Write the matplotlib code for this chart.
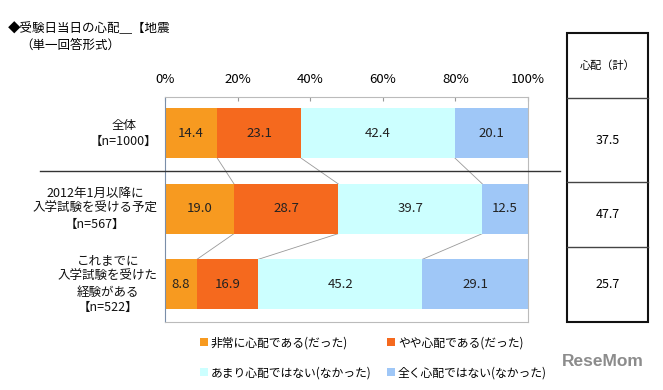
import matplotlib
matplotlib.use("Agg")
import matplotlib.pyplot as plt
from matplotlib.patches import Rectangle
from matplotlib.lines import Line2D
import numpy as np

plt.rcParams['font.family'] = ['Noto Sans CJK JP', 'DejaVu Sans']

# data
groups = ["全体\n【n=1000】",
          "2012年1月以降に\n入学試験を受ける予定\n【n=567】",
          "これまでに\n入学試験を受けた\n経験がある\n【n=522】"]
series_names = ["非常に心配である(だった)", "やや心配である(だった)",
                "あまり心配ではない(なかった)", "全く心配ではない(なかった)"]
very = [14.4, 19.0, 8.8]
somewhat = [23.1, 28.7, 16.9]
not_much = [42.4, 39.7, 45.2]
not_at_all = [20.1, 12.5, 29.1]
worry_total = [37.5, 47.7, 25.7]
tick_labels = ["0%", "20%", "40%", "60%", "80%", "100%"]

colors = ["#F79A20", "#F5691E", "#CCFFFF", "#9FC7F7"]

fig = plt.figure(figsize=(6.63, 3.90), dpi=100)
W, H = 663, 390

def fx(px):
    return px / W

def fy(py):
    return 1 - py / H

ax = fig.add_axes([fx(165), fy(322), fx(528) - fx(165), fy(97) - fy(322)])

series = [very, somewhat, not_much, not_at_all]
ypos = np.arange(len(groups))
bh = 0.66
left = np.zeros(len(groups))
for vals, c in zip(series, colors):
    vals = np.array(vals)
    ax.barh(ypos, vals, left=left, height=bh, color=c, edgecolor='none', zorder=2)
    for y, l, v in zip(ypos, left, vals):
        ax.text(l + v / 2, y, f"{v:.1f}", ha='center', va='center', fontsize=9.5, color='#222222', zorder=3)
    left = left + vals

# connecting lines between bars
cum = np.cumsum(np.array(series), axis=0)
for i in range(len(groups) - 1):
    for k in range(3):
        ax.plot([cum[k][i], cum[k][i + 1]], [ypos[i] + bh / 2, ypos[i + 1] - bh / 2],
                color='#999999', lw=0.6, zorder=1)

ax.set_xlim(0, 100)
ax.set_ylim(2.5, -0.48)
ax.xaxis.tick_top()
ax.set_xticks(np.arange(0, 101, 20))
ax.set_xticklabels(tick_labels, fontsize=9.5)
ax.tick_params(axis='x', direction='in', length=3, color='#999999', pad=8)
ax.set_yticks([])
for s in ['top', 'bottom', 'right']:
    ax.spines[s].set_color('#BBBBBB')
    ax.spines[s].set_linewidth(0.8)
ax.spines['left'].set_color('#7A8EA8')
ax.spines['left'].set_linewidth(0.8)

# group labels
for y, g in zip(ypos, groups):
    ax.text(-2, y, g, ha='right', va='center', multialignment='center',
            fontsize=9, linespacing=1.25, color='#111111')

# divider line
fig.add_artist(Line2D([fx(40), fx(560)], [fy(171), fy(171)], color='#333333', lw=1.0))

# title
fig.text(fx(8), fy(29), "◆受験日当日の心配＿【地震", fontsize=9, va='center', ha='left')
fig.text(fx(20), fy(45), "（単一回答形式）", fontsize=9, va='center', ha='left')

# side table
tx0, tx1 = 567, 648
rows = [33, 98, 182, 247, 322]
for r in rows[1:-1]:
    fig.add_artist(Line2D([fx(tx0), fx(tx1)], [fy(r), fy(r)], color='#444444', lw=1.0))
fig.add_artist(Rectangle((fx(tx0), fy(322)), fx(tx1) - fx(tx0), fy(33) - fy(322),
                         fill=False, edgecolor='#111111', lw=1.5))
fig.text(fx((tx0 + tx1) / 2), fy((rows[0] + rows[1]) / 2), "心配（計）",
         ha='center', va='center', fontsize=8)
for i, v in enumerate(worry_total):
    fig.text(fx((tx0 + tx1) / 2), fy((rows[i + 1] + rows[i + 2]) / 2), f"{v:.1f}",
             ha='center', va='center', fontsize=9)

# legend
leg_pos = [(200, 343), (387, 343), (200, 373), (387, 373)]
for (px, py), name, c in zip(leg_pos, series_names, colors):
    fig.add_artist(Rectangle((fx(px), fy(py + 3)), fx(8), 8 / H, facecolor=c, edgecolor='none'))
    fig.text(fx(px + 11), fy(py), name, ha='left', va='center', fontsize=8.5)

# watermark
fig.text(fx(644), fy(362), "ReseMom", ha='right', va='center', fontsize=12.5,
         fontweight='bold', color='#8C8C8C', family='Liberation Sans')

fig.savefig("out.png", dpi=100)
